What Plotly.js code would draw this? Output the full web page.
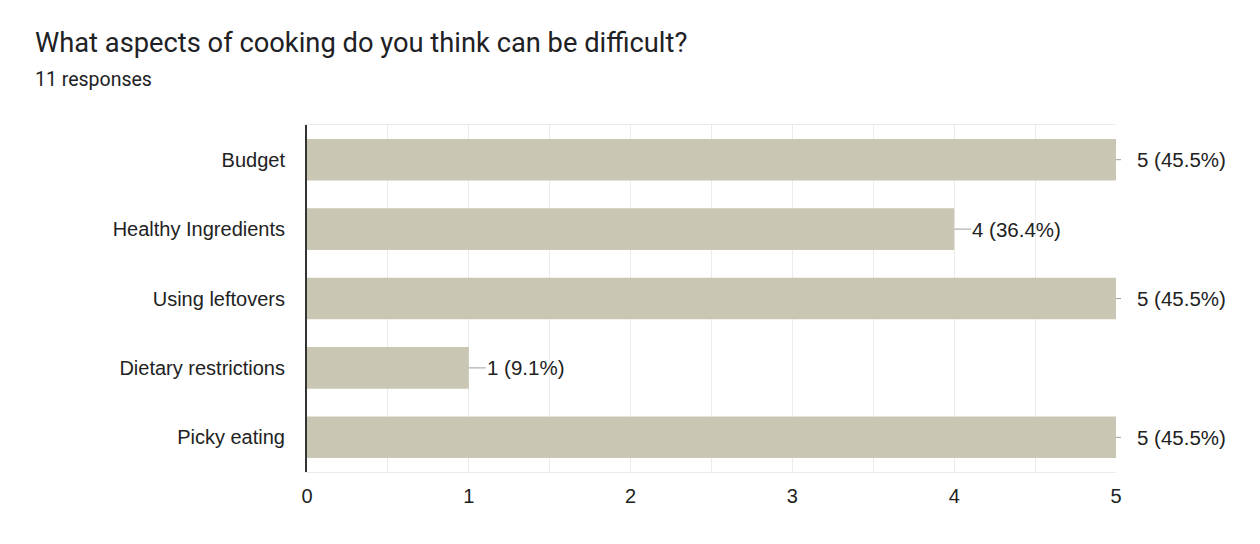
<!DOCTYPE html>
<html>
<head>
<meta charset="utf-8">
<script src="https://cdn.plot.ly/plotly-3.0.1.min.js"></script>
<style>html,body{margin:0;padding:0;background:#fff;}#chart{width:1260px;height:544px;}</style>
</head>
<body>
<div id="chart"></div>
<script>
const categories = ["Budget", "Healthy Ingredients", "Using leftovers", "Dietary restrictions", "Picky eating"];
const counts = [5, 4, 5, 1, 5];
const totalResponses = 11;
const xTicks = [0, 1, 2, 3, 4, 5];

const maxVal = Math.max(...counts);
const labels = counts.map(c => c + " (" + (c / totalResponses * 100).toFixed(1) + "%)");

const trace = {
  type: "bar",
  orientation: "h",
  y: categories,
  x: counts,
  marker: {color: "#c9c6b3"},
  hoverinfo: "none",
  cliponaxis: false
};

const annotations = categories.map((cat, i) => {
  const atMax = counts[i] === maxVal;
  return {
    x: counts[i], y: cat, xref: "x", yref: "y",
    text: labels[i],
    showarrow: true, arrowhead: 0, arrowwidth: 1, arrowcolor: "#9e9e9e",
    ax: atMax ? 20 : 17, ay: 0,
    startstandoff: atMax ? 15 : 0,
    xanchor: "left", yanchor: "middle",
    borderpad: 0,
    font: {family: "Liberation Sans, Arial, sans-serif", size: 20.5, color: "#222"}
  };
});

annotations.push({
  xref: "paper", yref: "paper", x: -0.339, y: 1.132, xanchor: "left", yanchor: "middle",
  text: "11 responses", showarrow: false,
  font: {family: "Roboto, sans-serif", size: 19.5, color: "#202124"}
});

const layout = {
  width: 1260, height: 544,
  margin: {l: 307, r: 144, t: 125, b: 72},
  paper_bgcolor: "#fff", plot_bgcolor: "#fff",
  title: {
    text: "What aspects of cooking do you think can be difficult?",
    x: 35 / 1260, xanchor: "left", xref: "container",
    y: 1 - 42 / 544, yanchor: "middle", yref: "container",
    font: {family: "Roboto, sans-serif", size: 27.3, color: "#202124"}
  },
  bargap: 0.4,
  showlegend: false,
  xaxis: {
    range: [0, 5], tickvals: xTicks, ticktext: xTicks.map(String),
    showgrid: true, gridcolor: "#ebebeb", gridwidth: 1,
    minor: {dtick: 0.5, showgrid: true, gridcolor: "#ebebeb", gridwidth: 1},
    zeroline: false,
    showline: true, linecolor: "#ebebeb", linewidth: 1, mirror: true,
    ticks: "", ticklabelstandoff: 6,
    tickfont: {family: "Liberation Sans, Arial, sans-serif", size: 20, color: "#222"},
    fixedrange: true
  },
  yaxis: {
    type: "category", autorange: "reversed",
    showgrid: false, zeroline: false,
    showline: true, linecolor: "#333", linewidth: 2,
    ticks: "", ticklabelstandoff: 16,
    tickfont: {family: "Liberation Sans, Arial, sans-serif", size: 20, color: "#222"},
    fixedrange: true
  },
  annotations: annotations
};

Plotly.newPlot("chart", [trace], layout, {displayModeBar: false, staticPlot: true});
</script>
</body>
</html>
